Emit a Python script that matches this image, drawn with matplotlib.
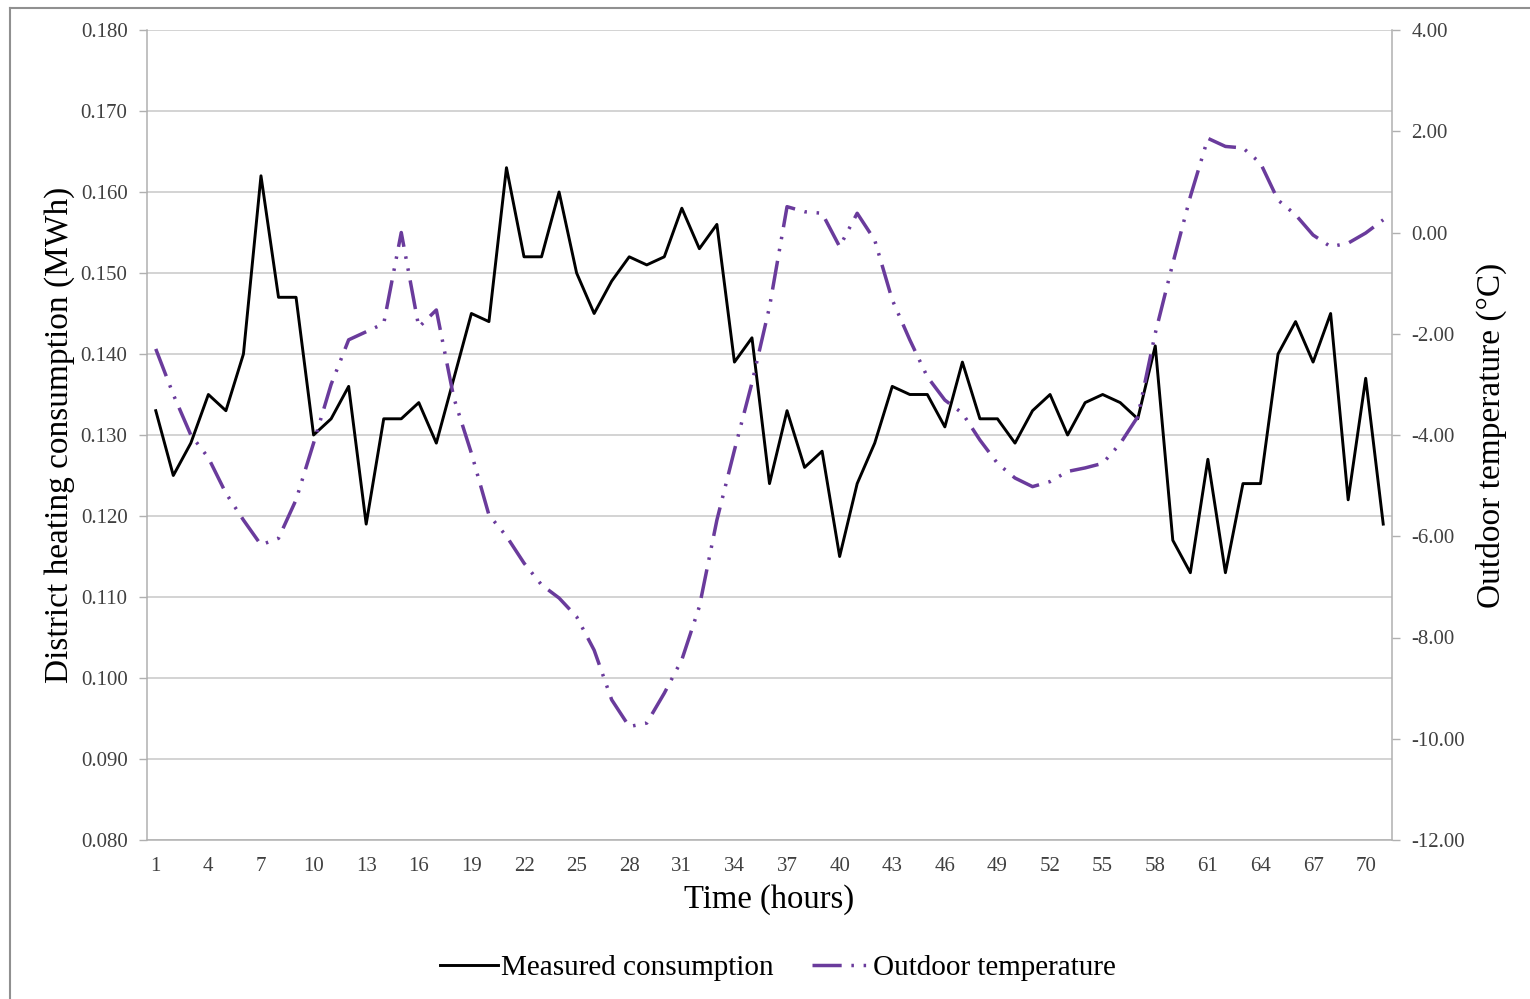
import matplotlib
matplotlib.use("Agg")
import matplotlib.pyplot as plt
from matplotlib.lines import Line2D

plt.rcParams['font.family'] = ['Liberation Serif', 'DejaVu Serif']
plt.rcParams['lines.scale_dashes'] = False

hours = list(range(1, 72))
consumption = [0.133, 0.125, 0.129, 0.135, 0.133, 0.140, 0.162, 0.147, 0.147, 0.130,
               0.132, 0.136, 0.119, 0.132, 0.132, 0.134, 0.129, 0.137, 0.145, 0.144,
               0.163, 0.152, 0.152, 0.160, 0.150, 0.145, 0.149, 0.152, 0.151, 0.152,
               0.158, 0.153, 0.156, 0.139, 0.142, 0.124, 0.133, 0.126, 0.128, 0.115,
               0.124, 0.129, 0.136, 0.135, 0.135, 0.131, 0.139, 0.132, 0.132, 0.129,
               0.133, 0.135, 0.130, 0.134, 0.135, 0.134, 0.132, 0.141, 0.117, 0.113,
               0.127, 0.113, 0.124, 0.124, 0.140, 0.144, 0.139, 0.145, 0.122, 0.137,
               0.119]
temperature = [-2.3, -3.2, -4.0, -4.45, -5.15, -5.68, -6.17, -6.04, -5.28, -4.16,
               -3.0, -2.12, -1.96, -1.8, 0.0, -1.87, -1.53, -3.27, -4.36, -5.58,
               -6.0, -6.53, -6.96, -7.22, -7.59, -8.25, -9.23, -9.76, -9.69, -9.10,
               -8.44, -7.39, -5.68, -4.3, -2.97, -1.47, 0.51, 0.41, 0.38, -0.28,
               0.38, -0.15, -1.33, -2.12, -2.85, -3.31, -3.57, -4.1, -4.56, -4.85,
               -5.02, -4.92, -4.72, -4.65, -4.56, -4.17, -3.64, -1.99, -0.61, 0.71,
               1.86, 1.70, 1.67, 1.37, 0.64, 0.35, -0.05, -0.28, -0.21, -0.01,
               0.25]
left_ticks = [0.080, 0.090, 0.100, 0.110, 0.120, 0.130, 0.140, 0.150, 0.160, 0.170, 0.180]
right_ticks = [-12, -10, -8, -6, -4, -2, 0, 2, 4]
x_ticks = list(range(1, 72, 3))

purple = '#6A3B9C'
grid_c = '#C8C8C8'
tick_c = '#404040'

fig = plt.figure(figsize=(15.3, 9.99), dpi=100)
ax = fig.add_axes([147/1530, 1-840/999, (1392-147)/1530, (840-30)/999])
ax2 = ax.twinx()

l1, = ax.plot(hours, consumption, color='black', lw=2.1, zorder=3)
l2, = ax2.plot(hours, temperature, color=purple, lw=2.5,
               linestyle=(0, (21, 7, 1.8, 7, 1.8, 7)), dash_capstyle='butt', zorder=3)

ax.set_xlim(0.5, 71.5)
ax.set_ylim(0.080, 0.180)
ax2.set_ylim(-12, 4)
ax.set_yticks(left_ticks)
ax.set_yticklabels([f"{v:.3f}" for v in left_ticks])
ax2.set_yticks(right_ticks)
ax2.set_yticklabels([f"{v:.2f}" for v in right_ticks])
ax.set_xticks(x_ticks)
ax.set_xticklabels([str(v) for v in x_ticks])

ax.grid(axis='y', color=grid_c, lw=1.1)
ax.set_axisbelow(True)
for a in (ax, ax2):
    for s in a.spines.values():
        s.set_visible(False)
ax.spines['left'].set_visible(True)
ax.spines['bottom'].set_visible(True)
ax2.spines['right'].set_visible(True)
for s in (ax.spines['left'], ax.spines['bottom'], ax2.spines['right']):
    s.set_color('#B0B0B0')
    s.set_linewidth(1.1)

ax.tick_params(axis='y', length=6, width=1, color='#B0B0B0', labelsize=15, labelcolor=tick_c, pad=8)
ax.tick_params(axis='x', length=0, labelsize=15, labelcolor=tick_c, pad=12)
ax2.tick_params(axis='y', length=6, width=1, color='#B0B0B0', labelsize=15, labelcolor=tick_c, pad=8)

ax.set_ylabel('District heating consumption (MWh)', fontsize=24, labelpad=4)
ax2.set_ylabel('Outdoor temperature (°C)', fontsize=24, labelpad=8)
ax.set_xlabel('Time (hours)', fontsize=23.5, labelpad=6)

fig.legend([l1, l2], ['Measured consumption', 'Outdoor temperature'],
           loc='center', bbox_to_anchor=(778/1530, 1-968/999), ncol=2, frameon=False,
           fontsize=21, handlelength=2.0, handletextpad=0.1, columnspacing=1.3)

fig.add_artist(Line2D([9.5/1530, 9.5/1530], [0, 1-7.5/999], color='#909090', lw=1.5))
fig.add_artist(Line2D([9.5/1530, 1], [1-7.5/999, 1-7.5/999], color='#909090', lw=1.5))

fig.savefig('out.png', dpi=100)
